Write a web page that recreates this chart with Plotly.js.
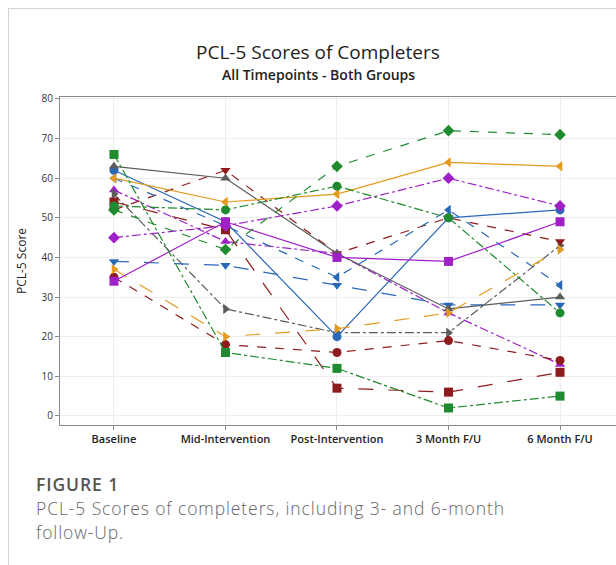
<!DOCTYPE html>
<html>
<head>
<meta charset="utf-8">
<script src="https://cdn.plot.ly/plotly-3.0.1.min.js"></script>
<style>
html,body{margin:0;padding:0;overflow:hidden;background:#fff;width:616px;height:565px;}
#card{position:absolute;left:8px;top:8px;width:700px;height:600px;border-left:1px solid #d4d4d4;border-top:1px solid #d4d4d4;}
#chart{position:absolute;left:0;top:0;width:640px;height:565px;}
.cap{position:absolute;left:36px;font-family:"Open Sans",sans-serif;white-space:nowrap;font-size:17.5px;line-height:23px;letter-spacing:0.9px;}
#c1{top:473px;font-weight:600;color:#555;}
#c2{top:497px;font-weight:300;color:#666;}
#c3{top:521px;font-weight:300;color:#666;}
</style>
</head>
<body>
<div id="card"></div>
<div id="chart"></div>
<div class="cap" id="c1">FIGURE 1</div>
<div class="cap" id="c2">PCL-5 Scores of completers, including 3- and 6-month</div>
<div class="cap" id="c3">follow-Up.</div>
<script>
const timepoints = ["Baseline","Mid-Intervention","Post-Intervention","3 Month F/U","6 Month F/U"];
const yTicks = [0,10,20,30,40,50,60,70,80];

const greenDiamond   = [52, 42, 63, 72, 71];
const greenCircle    = [53, 52, 58, 50, 26];
const greenSquare    = [66, 16, 12, 2, 5];
const orangeTriLeft  = [60, 54, 56, 64, 63];
const orangeTriRight = [37, 20, 22, 26, 42];
const grayTriUp      = [63, 60, 41, 27, 30];
const grayTriRight   = [56, 27, 21, 21, 43];
const redTriDown     = [52, 62, 41, 50, 44];
const redSquare      = [54, 47, 7, 6, 11];
const redCircle      = [35, 18, 16, 19, 14];
const blueCircle     = [62, 49, 20, 50, 52];
const blueTriLeft    = [60, 48, 35, 52, 33];
const blueTriDown    = [39, 38, 33, 28, 28];
const purpleDiamond  = [45, 48, 53, 60, 53];
const purpleSquare   = [34, 49, 40, 39, 49];
const purpleTriUp    = [57, 44, 41, 26, 13];

const GREEN="#1f8a2e", RED="#8e1c1c", PURPLE="#a020c8", BLUE="#2a68b8", ORANGE="#e39a1e", GRAY="#5c5c5c";

function tr(vals, color, symbol, dash){
  return {x: timepoints, y: vals, type:"scatter", mode:"lines+markers",
    line:{color:color, width:1.2, dash:dash},
    marker:{color:color, symbol:symbol, size:9},
    showlegend:false, hoverinfo:"skip"};
}

const data = [
  tr(purpleTriUp, PURPLE, "triangle-up", "dashdot"),
  tr(grayTriRight, GRAY, "triangle-right", "dashdot"),
  tr(redCircle, RED, "circle", "dash"),
  tr(redSquare, RED, "square", "longdash"),
  tr(redTriDown, RED, "triangle-down", "dash"),
  tr(blueTriDown, BLUE, "triangle-down", "longdash"),
  tr(blueTriLeft, BLUE, "triangle-left", "dash"),
  tr(blueCircle, BLUE, "circle", "solid"),
  tr(grayTriUp, GRAY, "triangle-up", "solid"),
  tr(orangeTriRight, ORANGE, "triangle-right", "longdash"),
  tr(orangeTriLeft, ORANGE, "triangle-left", "solid"),
  tr(purpleSquare, PURPLE, "square", "solid"),
  tr(purpleDiamond, PURPLE, "diamond", "dashdot"),
  tr(greenCircle, GREEN, "circle", "dashdot"),
  tr(greenSquare, GREEN, "square", "dashdot"),
  tr(greenDiamond, GREEN, "diamond", "dash")
];

const W = 640, H = 565;
const layout = {
  width: W, height: H,
  margin: {l:60, r:20, t:97, b:140},
  paper_bgcolor:"rgba(0,0,0,0)", plot_bgcolor:"#fff",
  font:{family:"Open Sans, Noto Sans, sans-serif", color:"#333"},
  xaxis:{
    type:"category", range:[-0.484, 4.538],
    tickvals: timepoints, ticktext: timepoints,
    showline:true, mirror:true, linecolor:"#8a8a8a", linewidth:1,
    ticks:"outside", ticklen:4, tickcolor:"#8a8a8a",
    showgrid:true, gridcolor:"#eeeeee", zeroline:false,
    tickfont:{size:11, color:"#222", family:"Open Sans, sans-serif", weight:600}
  },
  yaxis:{
    range:[-2.3, 80.5], tickvals: yTicks,
    showline:true, mirror:true, linecolor:"#8a8a8a", linewidth:1,
    ticks:"outside", ticklen:4, tickcolor:"#8a8a8a",
    showgrid:true, gridcolor:"#eeeeee", zeroline:false,
    tickfont:{size:10, color:"#333"},
    title:{text:"PCL-5 Score", font:{size:12, color:"#222"}, standoff:12}
  },
  annotations:[
    {text:"PCL-5 Scores of Completers", xref:"paper", yref:"paper",
     x:(318-60)/560, y:1, yshift:45, xanchor:"center", yanchor:"middle", showarrow:false,
     font:{size:19, color:"#222", family:"Open Sans, sans-serif"}},
    {text:"All Timepoints - Both Groups", xref:"paper", yref:"paper",
     x:(318-60)/560, y:1, yshift:23, xanchor:"center", yanchor:"middle", showarrow:false,
     font:{size:14, color:"#222", family:"Open Sans, sans-serif", weight:600}}
  ]
};
Plotly.newPlot("chart", data, layout, {displayModeBar:false, staticPlot:true});
</script>
</body>
</html>
